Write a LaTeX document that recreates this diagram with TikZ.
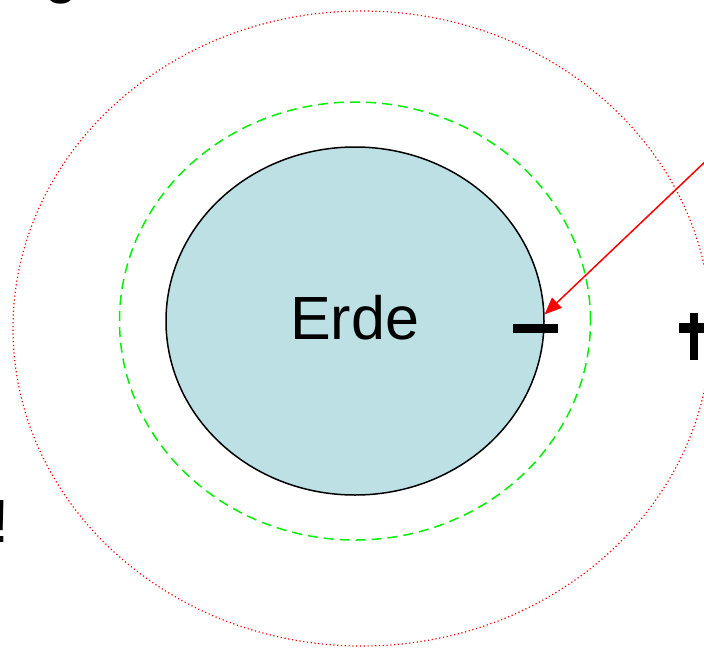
\documentclass[tikz,border=0pt]{standalone}
\usepackage{fontspec}
\setmainfont{Liberation Sans}
\usetikzlibrary{shapes.geometric,arrows.meta}
\definecolor{earthfill}{RGB}{188,224,228}
\definecolor{fieldgreen}{RGB}{0,240,0}
\begin{document}
\begin{tikzpicture}[x=1pt,y=-1pt,
  bigtext/.style={inner sep=0pt,font=\fontsize{61}{61}\selectfont},
  earthstyle/.style={ellipse,draw=black,line width=1.5pt,fill=earthfill,inner sep=0pt},
  greenring/.style={draw=fieldgreen,line width=1.5pt,dash pattern=on 10pt off 6pt},
  redring/.style={draw=red,line width=1.2pt,dash pattern=on 1.2pt off 2.6pt},
  chargebar/.style={fill=black},
  fieldarrow/.style={draw=red,line width=1.5pt,-{Triangle[length=17pt,width=14pt]}}]
\useasboundingbox (0,0) rectangle (704,649);
% outer red dotted ellipse
\draw[redring] (362,328.5) ellipse [x radius=349pt, y radius=317.5pt];
% green dashed ellipse
\draw[greenring] (355,321) ellipse [x radius=235.5pt, y radius=219pt];
% earth
\node[earthstyle,minimum width=378pt,minimum height=348pt] (earth) at (355,321) {};
\node[bigtext,anchor=base west] (erde) at (290,339) {Erde};
% charges
\fill[chargebar] (513,324) rectangle (558,333);
\fill[chargebar] (690,313) rectangle (698,360);
\fill[chargebar] (679,323) rectangle (712,333);
% arrow
\coordinate (src) at (760,109.5);
\draw[fieldarrow] (src) -- (earth.2.7);
% partial texts cut by the page border
\node[bigtext,anchor=base west] (gtext) at (44.5,-8.3) {g};
\node[bigtext,anchor=base west] (excl) at (-7.9,542) {!};
\end{tikzpicture}
\end{document}
